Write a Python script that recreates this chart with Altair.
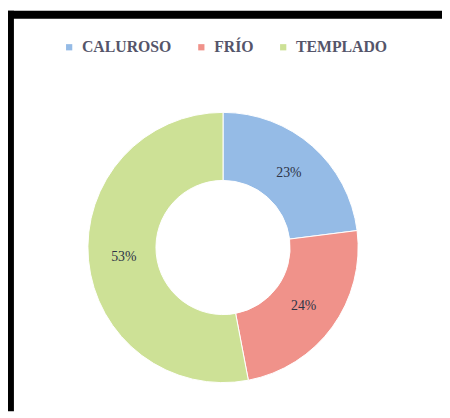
import altair as alt
import pandas as pd

categories = ["CALUROSO", "FRÍO", "TEMPLADO"]
values = [23, 24, 53]
labels = ["23%", "24%", "53%"]
colors = ["#95BBE6", "#F0928A", "#CDE196"]
order = [0, 1, 2]

df = pd.DataFrame({"cat": categories, "val": values, "lab": labels, "ord": order})

W, H = 440, 406

base = alt.Chart(df).encode(
    theta=alt.Theta("val:Q", stack=True),
    order=alt.Order("ord:Q"),
    x=alt.value(218),
    y=alt.value(240),
)

arc = base.mark_arc(innerRadius=68, outerRadius=137, stroke="#FFFFFF", strokeWidth=1).encode(
    color=alt.Color(
        "cat:N",
        scale=alt.Scale(domain=categories, range=colors),
        sort=categories,
        legend=alt.Legend(
            title=None,
            orient="none",
            direction="horizontal",
            legendX=54,
            legendY=29,
            symbolType="square",
            symbolSize=40,
            symbolStrokeWidth=0,
            labelFont="Liberation Serif",
            labelFontWeight="bold",
            labelFontSize=16,
            labelColor="#55556A",
            labelOffset=5,
            columnPadding=22,
        ),
    )
)

text = base.mark_text(radius=101, font="Liberation Serif", fontSize=14, color="#2E3446").encode(
    text="lab:N"
)

frame_df = pd.DataFrame({"f": [0]})
top_bar = alt.Chart(frame_df).mark_rect(color="#000000").encode(
    x=alt.value(0), x2=alt.value(W), y=alt.value(0), y2=alt.value(8)
)
left_bar = alt.Chart(frame_df).mark_rect(color="#000000").encode(
    x=alt.value(0), x2=alt.value(6), y=alt.value(0), y2=alt.value(H)
)

chart = (
    alt.layer(arc, text, top_bar, left_bar)
    .properties(
        width=W,
        height=H,
        padding=0,
        autosize=alt.AutoSizeParams(type="none"),
        background="#FFFFFF",
    )
    .configure_view(strokeWidth=0)
)

chart.save("out.html", embed_options={"renderer": "svg", "actions": False})
